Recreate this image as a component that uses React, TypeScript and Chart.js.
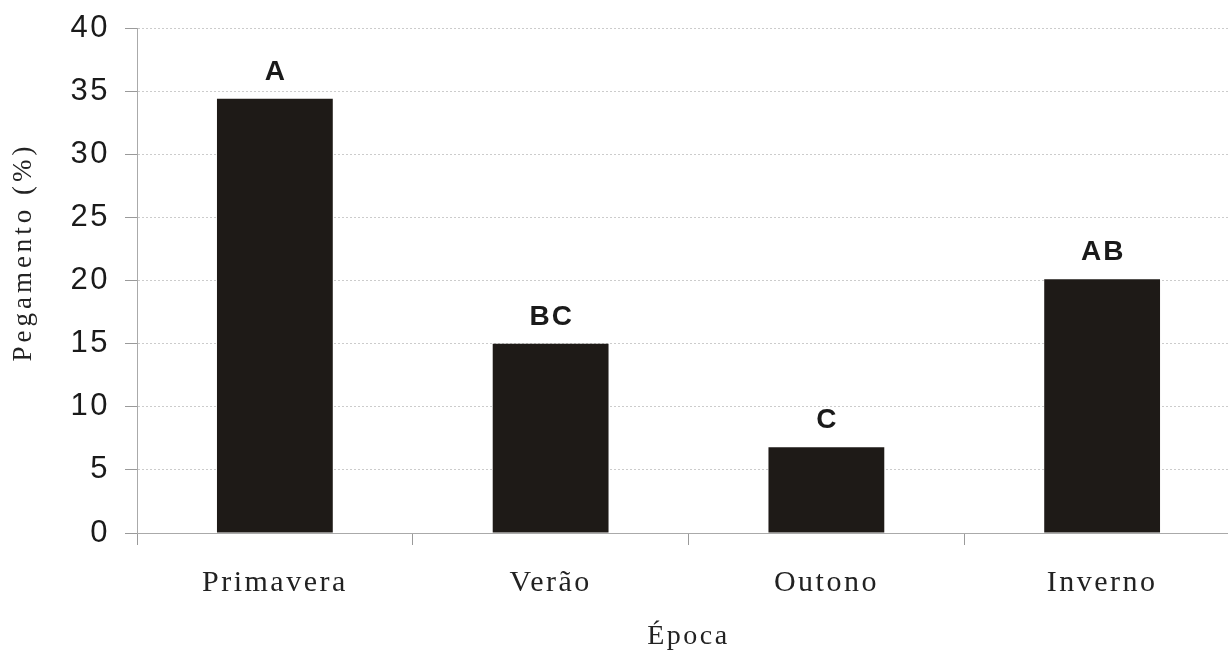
import React, { useEffect, useRef } from "react";
import { Chart, registerables } from "chart.js";

Chart.register(...registerables);

const categories = ["Primavera", "Verão", "Outono", "Inverno"];
const pegamento = [34.4, 15.0, 6.8, 20.1];
const letters = ["A", "BC", "C", "AB"];
const yMin = 0;
const yMax = 40;
const yStep = 5;
const xTitle = "Época";
const yTitle = "Pegamento (%)";

const spacingPlugin = {
  id: "spacing",
  beforeDraw(chart: any) {
    chart.ctx.letterSpacing = "2.5px";
  },
  afterDraw(chart: any) {
    chart.ctx.letterSpacing = "0px";
  },
};

const lettersPlugin = {
  id: "letters",
  afterDatasetsDraw(chart: any) {
    const ctx = chart.ctx;
    const meta = chart.getDatasetMeta(0);
    ctx.save();
    ctx.letterSpacing = "2px";
    ctx.font = 'bold 28px "Liberation Sans", Arial, sans-serif';
    ctx.fillStyle = "#1a1a1a";
    ctx.textAlign = "center";
    ctx.textBaseline = "alphabetic";
    meta.data.forEach((bar: any, i: number) => {
      ctx.fillText(letters[i], bar.x + 1, bar.y - 19);
    });
    ctx.restore();
  },
};

const yTitlePlugin = {
  id: "ytitle",
  afterDraw(chart: any) {
    const ctx = chart.ctx;
    ctx.save();
    ctx.translate(24, 252);
    ctx.rotate(-Math.PI / 2);
    ctx.letterSpacing = "4px";
    ctx.font = '27px "Liberation Serif", "Times New Roman", serif';
    ctx.fillStyle = "#222";
    ctx.textAlign = "center";
    ctx.textBaseline = "middle";
    ctx.fillText(yTitle, 0, 0);
    ctx.restore();
  },
};

export default function App() {
  const ref = useRef<HTMLCanvasElement>(null);
  useEffect(() => {
    if (!ref.current) return;
    const chart = new Chart(ref.current, {
      type: "bar",
      data: {
        labels: categories,
        datasets: [
          {
            data: pegamento,
            backgroundColor: "#1e1a17",
            borderWidth: 0,
            categoryPercentage: 1,
            barPercentage: 0.42,
          },
        ],
      },
      options: {
        animation: false,
        responsive: false,
        devicePixelRatio: 1,
        layout: { padding: { top: 28, left: 0, right: 0, bottom: 0 } },
        plugins: {
          legend: { display: false },
          tooltip: { enabled: false },
        },
        scales: {
          x: {
            type: "category",
            offset: true,
            afterFit: (s: any) => {
              s.height = 119;
              s.paddingLeft = 0;
              s.paddingRight = 0;
            },
            grid: {
              offset: true,
              drawOnChartArea: false,
              tickLength: 12,
              color: "#9a9a9a",
            },
            border: { color: "#aaaaaa", width: 1 },
            ticks: {
              padding: 20,
              color: "#222",
              font: { family: '"Liberation Serif", "Times New Roman", serif', size: 30 },
            },
            title: {
              display: true,
              text: xTitle,
              color: "#222",
              padding: { top: 0, bottom: 0 },
              font: {
                family: '"Liberation Serif", "Times New Roman", serif',
                size: 28,
                lineHeight: 1.1,
              },
            },
          },
          y: {
            min: yMin,
            max: yMax,
            afterFit: (s: any) => {
              s.width = 137;
              s.paddingTop = 0;
              s.paddingBottom = 0;
            },
            grid: {
              color: "#cccccc",
              lineWidth: 1,
              tickLength: 12,
              tickColor: "#9a9a9a",
            },
            border: { color: "#aaaaaa", width: 1, dash: [2, 2] },
            ticks: {
              stepSize: yStep,
              padding: 15,
              color: "#1a1a1a",
              font: { family: '"Liberation Sans", Arial, sans-serif', size: 31 },
            },
          },
        },
      },
      plugins: [spacingPlugin, lettersPlugin, yTitlePlugin],
    });
    return () => chart.destroy();
  }, []);

  return (
    <div
      style={{
        position: "fixed",
        left: 0,
        top: 0,
        width: 1228,
        height: 652,
        overflow: "hidden",
        background: "#fff",
      }}
    >
      <canvas ref={ref} width={1240} height={652} style={{ display: "block" }} />
    </div>
  );
}
